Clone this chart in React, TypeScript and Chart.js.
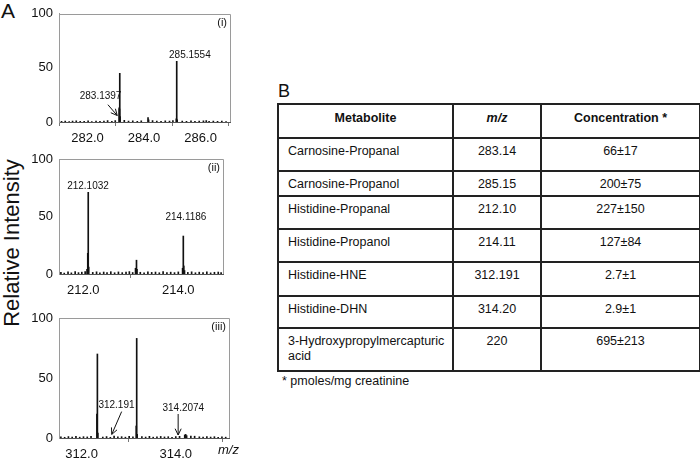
import React, { useEffect, useRef } from "react";
import { Chart, registerables } from "chart.js";
Chart.register(...registerables);

const FONT = '"Liberation Sans", Arial, Helvetica, sans-serif';

// ---------- Panel (i) ----------
const peakMz1 = [283.12, 283.13, 283.14, 283.15, 284.14, 284.16, 285.14, 285.155, 285.17, 286.2];
const peakInt1 = [13, 12, 45, 5, 4, 2, 3, 56, 2, 1.2];
const noiseMz1 = [281.08, 281.21, 281.35, 281.47, 281.6, 281.74, 281.88, 282.02, 282.15, 282.3, 282.44, 282.58, 282.71, 282.86, 282.98, 283.3, 283.45, 283.6, 283.76, 283.9, 284.3, 284.45, 284.6, 284.75, 284.9, 285.02, 285.35, 285.5, 285.66, 285.8, 285.95, 286.1, 286.3, 286.45, 286.6, 286.75, 286.9];
const noiseInt1 = [0.6, 0.9, 0.5, 0.8, 1.0, 0.6, 0.7, 1.1, 0.5, 0.8, 0.6, 0.9, 1.2, 0.7, 1.4, 1.5, 0.8, 1.0, 0.7, 1.1, 1.3, 0.8, 0.6, 1.0, 0.9, 1.2, 0.9, 0.7, 1.0, 0.6, 0.8, 1.0, 0.7, 0.9, 0.6, 0.8, 0.5];
const ticks1 = [282, 284, 286];
const noteText1 = ["283.1397", "285.1554"];
const noteMz1 = [282.46, 285.62];
const noteInt1 = [24, 62];
const arrowFromMz1 = [282.72];
const arrowFromInt1 = [16];
const arrowToMz1 = [283.05];
const arrowToInt1 = [6];

// ---------- Panel (ii) ----------
const peakMz2 = [212.08, 212.095, 212.105, 212.115, 213.1, 213.12, 213.13, 214.09, 214.105, 214.115, 214.13];
const peakInt2 = [4, 18, 71, 6, 5, 12, 4, 5, 33, 7, 3];
const noiseMz2 = [211.53, 211.6, 211.68, 211.75, 211.83, 211.9, 211.97, 212.04, 212.2, 212.28, 212.35, 212.43, 212.5, 212.58, 212.66, 212.74, 212.82, 212.9, 212.97, 213.04, 213.2, 213.28, 213.36, 213.44, 213.52, 213.6, 213.68, 213.76, 213.84, 213.92, 214.0, 214.2, 214.28, 214.36, 214.44, 214.52, 214.6, 214.68, 214.76, 214.84, 214.9];
const noiseInt2 = [1.5, 0.8, 1.8, 1.0, 2.0, 1.2, 1.6, 2.2, 1.4, 1.9, 1.0, 1.7, 1.3, 2.0, 1.1, 1.8, 1.2, 1.6, 2.1, 1.3, 1.5, 1.0, 1.9, 1.4, 1.7, 1.1, 2.0, 1.3, 1.6, 1.2, 1.8, 1.4, 1.9, 1.1, 1.6, 1.3, 1.8, 1.0, 1.5, 1.7, 1.2];
const ticks2 = [212, 214];
const noteText2 = ["212.1032", "214.1186"];
const noteMz2 = [212.1, 214.16];
const noteInt2 = [76, 49];
const arrowFromMz2: number[] = [];
const arrowFromInt2: number[] = [];
const arrowToMz2: number[] = [];
const arrowToInt2: number[] = [];

// ---------- Panel (iii) ----------
const peakMz3 = [312.325, 312.335, 312.345, 313.16, 313.17, 313.18, 314.19, 314.21, 314.23, 314.4];
const peakInt3 = [20, 70, 4, 10, 83, 3, 2.5, 3, 2, 1.5];
const noiseMz3 = [311.56, 311.64, 311.72, 311.8, 311.88, 311.96, 312.04, 312.12, 312.2, 312.45, 312.53, 312.61, 312.69, 312.77, 312.85, 312.93, 313.01, 313.09, 313.28, 313.36, 313.44, 313.52, 313.6, 313.68, 313.76, 313.84, 313.92, 314.0, 314.08, 314.32, 314.5, 314.58, 314.66, 314.74, 314.82, 314.9, 314.98, 315.06];
const noiseInt3 = [1.0, 0.6, 1.2, 0.8, 1.4, 0.7, 1.1, 0.9, 1.3, 0.8, 1.2, 0.6, 1.5, 0.9, 1.1, 0.7, 1.3, 1.0, 1.2, 0.8, 1.4, 0.7, 1.0, 1.3, 0.9, 1.1, 0.6, 1.2, 1.4, 1.6, 1.0, 0.7, 1.2, 0.8, 1.1, 0.6, 0.9, 0.7];
const ticks3 = [312, 314];
const noteText3 = ["312.191", "314.2074"];
const noteMz3 = [312.74, 314.16];
const noteInt3 = [27.5, 25];
const arrowFromMz3 = [312.85, 314.05];
const arrowFromInt3 = [22, 20];
const arrowToMz3 = [312.64, 314.05];
const arrowToInt3 = [3, 2.5];

const yTicks = [0, 50, 100];

// ---------- Table (B) ----------
const headers = ["Metabolite", "m/z", "Concentration *"];
const metabolites = ["Carnosine-Propanal", "Carnosine-Propanol", "Histidine-Propanal", "Histidine-Propanol", "Histidine-HNE", "Histidine-DHN", "3-Hydroxypropylmercapturic acid"];
const mzValues = ["283.14", "285.15", "212.10", "214.11", "312.191", "314.20", "220"];
const concentrations = ["66±17", "200±75", "227±150", "127±84", "2.7±1", "2.9±1", "695±213"];
const footnote = "* pmoles/mg creatinine";

const rowHeights = [34, 33, 25, 33, 33, 34, 32, 43];

function drawArrow(ctx: CanvasRenderingContext2D, x1: number, y1: number, x2: number, y2: number) {
  ctx.beginPath();
  ctx.moveTo(x1, y1);
  ctx.lineTo(x2, y2);
  const ang = Math.atan2(y2 - y1, x2 - x1);
  const L = 7;
  const a = 0.45;
  ctx.moveTo(x2 - L * Math.cos(ang - a), y2 - L * Math.sin(ang - a));
  ctx.lineTo(x2, y2);
  ctx.lineTo(x2 - L * Math.cos(ang + a), y2 - L * Math.sin(ang + a));
  ctx.stroke();
}

type PanelProps = {
  top: number;
  height: number;
  padTop: number;
  padRight: number;
  axisH: number;
  xMin: number;
  xMax: number;
  ticks: number[];
  peakMz: number[];
  peakInt: number[];
  noiseMz: number[];
  noiseInt: number[];
  noteText: string[];
  noteMz: number[];
  noteInt: number[];
  aFromMz: number[];
  aFromInt: number[];
  aToMz: number[];
  aToInt: number[];
  tag: string;
};

function Spectrum(p: PanelProps) {
  const ref = useRef<HTMLCanvasElement>(null);
  useEffect(() => {
    if (!ref.current) return;
    const pts = p.noiseMz
      .map((x, i) => ({ x, y: p.noiseInt[i] }))
      .concat(p.peakMz.map((x, i) => ({ x, y: p.peakInt[i] })));
    const frame = {
      id: "frame",
      afterDraw(c: any) {
        const { ctx, chartArea: a, scales } = c;
        ctx.save();
        ctx.strokeStyle = "#9a9a9a";
        ctx.lineWidth = 1;
        ctx.beginPath();
        ctx.moveTo(Math.round(a.left) + 0.5, Math.round(a.top) + 0.5);
        ctx.lineTo(Math.round(a.right) + 0.5, Math.round(a.top) + 0.5);
        ctx.lineTo(Math.round(a.right) + 0.5, Math.round(a.bottom));
        ctx.stroke();
        // notes
        ctx.fillStyle = "#111";
        ctx.font = `10px ${FONT}`;
        ctx.textAlign = "center";
        ctx.textBaseline = "middle";
        p.noteText.forEach((t, i) => {
          ctx.fillText(t, scales.x.getPixelForValue(p.noteMz[i]), scales.y.getPixelForValue(p.noteInt[i]));
        });
        ctx.strokeStyle = "#111";
        ctx.lineWidth = 1;
        p.aFromMz.forEach((m, i) => {
          drawArrow(
            ctx,
            scales.x.getPixelForValue(m),
            scales.y.getPixelForValue(p.aFromInt[i]),
            scales.x.getPixelForValue(p.aToMz[i]),
            scales.y.getPixelForValue(p.aToInt[i])
          );
        });
        ctx.font = `11px ${FONT}`;
        ctx.textAlign = "right";
        ctx.fillText(p.tag, a.right - 3, a.top + 9);
        ctx.restore();
      },
    };
    const chart = new Chart(ref.current, {
      type: "bar",
      data: {
        datasets: [
          {
            data: pts as any,
            backgroundColor: "#111",
            borderWidth: 0,
            barThickness: 1,
            grouped: false,
          } as any,
        ],
      },
      options: {
        animation: false,
        responsive: false,
        maintainAspectRatio: false,
        events: [],
        layout: { padding: { top: p.padTop, right: p.padRight, left: 0, bottom: 0 } },
        plugins: { legend: { display: false }, tooltip: { enabled: false } },
        scales: {
          x: {
            type: "linear",
            min: p.xMin,
            max: p.xMax,
            offset: false,
            afterBuildTicks: (s: any) => {
              s.ticks = p.ticks.map((v) => ({ value: v }));
            },
            ticks: {
              autoSkip: false,
              maxRotation: 0,
              padding: 5,
              color: "#111",
              font: { family: FONT, size: 13 },
              callback: (v: any) => Number(v).toFixed(1),
            },
            grid: { display: true, drawOnChartArea: false, drawTicks: true, tickLength: 4, color: "#777" },
            border: { color: "#555", width: 1 },
            afterFit: (s: any) => {
              s.height = p.axisH;
            },
          },
          y: {
            min: 0,
            max: 100,
            afterBuildTicks: (s: any) => {
              s.ticks = yTicks.map((v) => ({ value: v }));
            },
            ticks: { padding: 6, color: "#111", font: { family: FONT, size: 13 } },
            grid: { display: false, drawTicks: false },
            border: { color: "#9a9a9a", width: 1 },
            afterFit: (s: any) => {
              s.width = 59;
            },
          },
        },
      } as any,
      plugins: [frame],
    });
    return () => chart.destroy();
  }, []);
  return (
    <canvas
      ref={ref}
      width={240}
      height={p.height}
      style={{ position: "absolute", left: 0, top: p.top, width: 240, height: p.height }}
    />
  );
}

const cellBorder = "2px solid #222";

export default function App() {
  return (
    <div
      style={{
        position: "absolute",
        left: 0,
        top: 0,
        width: 700,
        height: 460,
        background: "#fff",
        overflow: "hidden",
        fontFamily: FONT,
        color: "#111",
      }}
    >
      <div style={{ position: "absolute", left: 1, top: -1, fontSize: 21, lineHeight: "24px" }}>A</div>
      <div
        style={{
          position: "absolute",
          left: 12,
          top: 243,
          fontSize: 22,
          lineHeight: "24px",
          whiteSpace: "nowrap",
          transform: "translate(-50%, -50%) rotate(-90deg)",
        }}
      >
        Relative Intensity
      </div>
      <Spectrum
        top={0}
        height={145}
        padTop={6}
        padRight={10}
        axisH={23}
        xMin={280.99}
        xMax={287.04}
        ticks={ticks1}
        peakMz={peakMz1}
        peakInt={peakInt1}
        noiseMz={noiseMz1}
        noiseInt={noiseInt1}
        noteText={noteText1}
        noteMz={noteMz1}
        noteInt={noteInt1}
        aFromMz={arrowFromMz1}
        aFromInt={arrowFromInt1}
        aToMz={arrowToMz1}
        aToInt={arrowToInt1}
        tag="(i)"
      />
      <Spectrum
        top={145}
        height={150}
        padTop={14}
        padRight={17}
        axisH={21}
        xMin={211.49}
        xMax={214.94}
        ticks={ticks2}
        peakMz={peakMz2}
        peakInt={peakInt2}
        noiseMz={noiseMz2}
        noiseInt={noiseInt2}
        noteText={noteText2}
        noteMz={noteMz2}
        noteInt={noteInt2}
        aFromMz={arrowFromMz2}
        aFromInt={arrowFromInt2}
        aToMz={arrowToMz2}
        aToInt={arrowToInt2}
        tag="(ii)"
      />
      <Spectrum
        top={300}
        height={160}
        padTop={18}
        padRight={11}
        axisH={22}
        xMin={311.52}
        xMax={315.13}
        ticks={ticks3}
        peakMz={peakMz3}
        peakInt={peakInt3}
        noiseMz={noiseMz3}
        noiseInt={noiseInt3}
        noteText={noteText3}
        noteMz={noteMz3}
        noteInt={noteInt3}
        aFromMz={arrowFromMz3}
        aFromInt={arrowFromInt3}
        aToMz={arrowToMz3}
        aToInt={arrowToInt3}
        tag="(iii)"
      />
      <div style={{ position: "absolute", left: 218, top: 442, fontSize: 13, fontStyle: "italic", lineHeight: "16px" }}>
        m/z
      </div>

      <div style={{ position: "absolute", left: 278, top: 80, fontSize: 18, lineHeight: "22px" }}>B</div>
      <table
        style={{
          position: "absolute",
          left: 277,
          top: 103,
          width: 422,
          borderCollapse: "collapse",
          tableLayout: "fixed",
          fontSize: 12.5,
          lineHeight: "15px",
          border: cellBorder,
        }}
      >
        <colgroup>
          <col style={{ width: 175 }} />
          <col style={{ width: 88 }} />
          <col style={{ width: 159 }} />
        </colgroup>
        <thead>
          <tr style={{ height: rowHeights[0] }}>
            {headers.map((h, i) => (
              <th
                key={h}
                style={{
                  border: cellBorder,
                  fontWeight: "bold",
                  fontStyle: i === 1 ? "italic" : "normal",
                  textAlign: "center",
                  verticalAlign: "top",
                  padding: "6px 4px 0 4px",
                }}
              >
                {h}
              </th>
            ))}
          </tr>
        </thead>
        <tbody>
          {metabolites.map((m, i) => (
            <tr key={m} style={{ height: rowHeights[i + 1] }}>
              <td style={{ border: cellBorder, verticalAlign: "top", padding: "5px 4px 0 9px", textAlign: "left" }}>{m}</td>
              <td style={{ border: cellBorder, verticalAlign: "top", padding: "5px 4px 0 4px", textAlign: "center" }}>
                {mzValues[i]}
              </td>
              <td style={{ border: cellBorder, verticalAlign: "top", padding: "5px 4px 0 4px", textAlign: "center" }}>
                {concentrations[i]}
              </td>
            </tr>
          ))}
        </tbody>
      </table>
      <div style={{ position: "absolute", left: 282, top: 373, fontSize: 12.5, lineHeight: "16px" }}>{footnote}</div>
    </div>
  );
}
